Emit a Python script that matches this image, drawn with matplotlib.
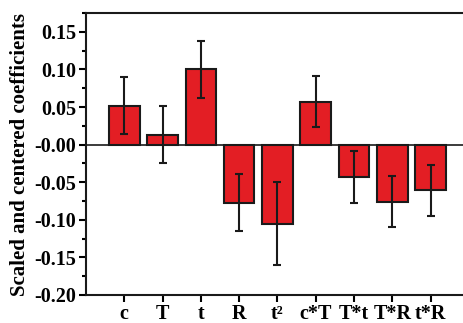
import matplotlib
matplotlib.use('Agg')
import matplotlib.pyplot as plt
from matplotlib.ticker import MultipleLocator
import numpy as np

plt.rcParams['font.family'] = 'Liberation Serif'
plt.rcParams['font.weight'] = 'bold'

# model terms and their scaled/centered coefficients
termos = ['c', 'T', 't', 'R', 't\u00b2', 'c*T', 'T*t', 'T*R', 't*R']
coef = [0.052, 0.013, 0.100, -0.077, -0.105, 0.057, -0.043, -0.076, -0.061]
erro = [0.038, 0.038, 0.038, 0.038, 0.055, 0.034, 0.034, 0.034, 0.034]

fig = plt.figure(figsize=(4.63, 3.23), dpi=100)
ax = fig.add_axes([0.1857, 0.0867, 0.827, 0.873])

x = np.arange(1, len(termos) + 1)
ax.bar(x, coef, width=0.8, color='#E31E24', edgecolor='#1a1a1a', linewidth=1.5, zorder=2)
ax.errorbar(x, coef, yerr=erro, fmt='none', ecolor='#1a1a1a', elinewidth=1.5,
            capsize=3, capthick=1.5, zorder=3)
ax.axhline(0, color='#1a1a1a', linewidth=1.2, zorder=1)

ax.set_xlim(0, 10)
ax.set_ylim(-0.2, 0.175)
ax.set_xticks(x)
ax.set_xticklabels(termos, fontsize=14.5, fontweight='bold')
ax.yaxis.set_minor_locator(MultipleLocator(0.025))
yt = np.arange(-0.20, 0.151, 0.05)
ax.set_yticks(yt)
ax.set_yticklabels(['%.2f' % v for v in yt], fontsize=14.5, fontweight='bold')

ax.tick_params(axis='both', which='major', direction='out', length=5, width=1.5)
ax.tick_params(axis='y', which='minor', direction='out', length=3, width=1.5)
ax.tick_params(axis='x', pad=1.5)
ax.tick_params(axis='y', pad=2)

for s in ax.spines.values():
    s.set_linewidth(1.5)
    s.set_color('#1a1a1a')

ax.set_ylabel('Scaled and centered coefficients', fontsize=15, fontweight='bold', labelpad=3)

plt.savefig('out.png', dpi=100)
